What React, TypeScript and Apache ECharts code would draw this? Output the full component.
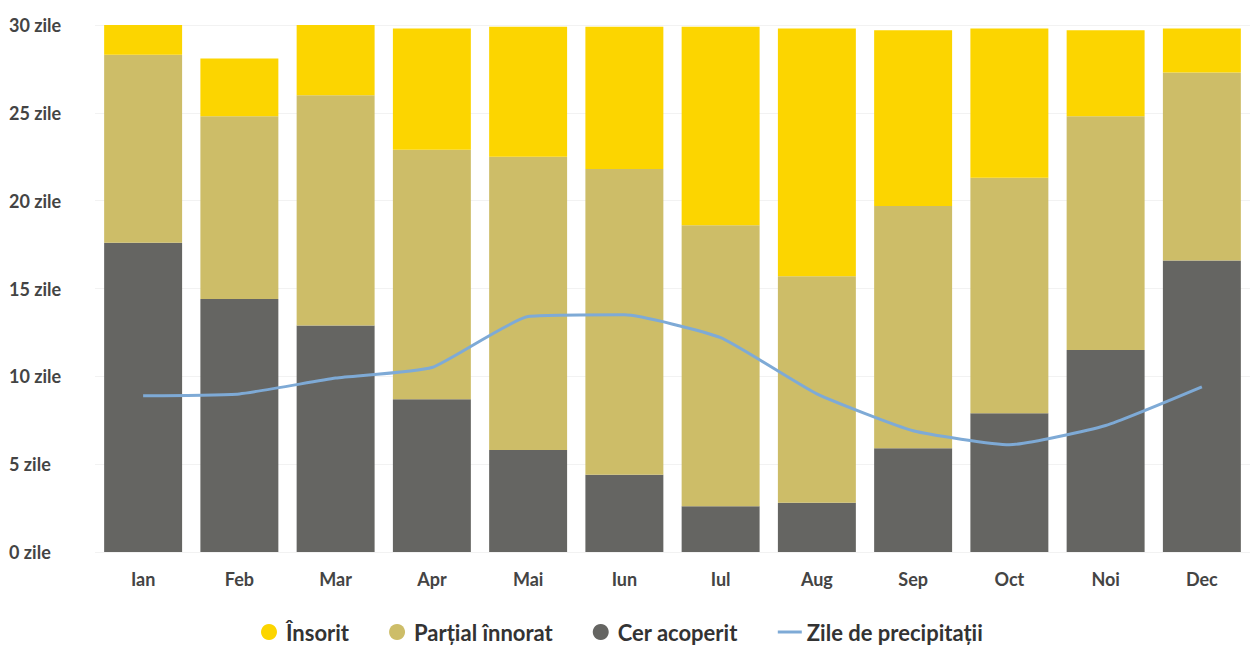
import React, { useEffect, useRef } from "react";
import * as echarts from "echarts";

const months = ["Ian", "Feb", "Mar", "Apr", "Mai", "Iun", "Iul", "Aug", "Sep", "Oct", "Noi", "Dec"];
const cloudy = [17.6, 14.4, 12.9, 8.7, 5.8, 4.4, 2.6, 2.8, 5.9, 7.9, 11.5, 16.6];
const partial = [10.7, 10.4, 13.1, 14.2, 16.7, 17.4, 16.0, 12.9, 13.8, 13.4, 13.3, 10.7];
const sunny = [1.8, 3.3, 4.0, 6.9, 7.4, 8.1, 11.3, 14.1, 10.0, 8.5, 4.9, 2.5];
const precipitation = [8.9, 9.0, 9.9, 10.5, 13.4, 13.5, 12.2, 9.0, 6.9, 6.1, 7.2, 9.4];

const FONT = "Lato, 'Open Sans', sans-serif";

export default function App() {
  const ref = useRef<HTMLDivElement>(null);
  useEffect(() => {
    if (!ref.current) return;
    const chart = echarts.init(ref.current, null, { renderer: "svg" });
    chart.setOption({
      animation: false,
      backgroundColor: "#ffffff",
      textStyle: { fontFamily: FONT },
      grid: { left: 95, right: 0, top: 25, bottom: 98, containLabel: false },
      legend: {
        bottom: 2,
        left: 256,
        itemGap: 40,
        itemWidth: 24,
        itemHeight: 16,
        textStyle: { fontSize: 22, fontWeight: "bold", color: "#333", fontFamily: FONT },
        data: [
          { name: "Însorit", icon: "circle" },
          { name: "Parțial înnorat", icon: "circle" },
          { name: "Cer acoperit", icon: "circle" },
          { name: "Zile de precipitații", icon: "path://M0,0 H24 V3 H0 Z" },
        ],
      },
      xAxis: {
        type: "category",
        data: months,
        axisLine: { show: false },
        axisTick: { show: false },
        axisLabel: { fontSize: 18, fontWeight: "bold", color: "#444", margin: 18, fontFamily: FONT },
      },
      yAxis: {
        type: "value",
        min: 0,
        max: 30,
        interval: 5,
        axisLine: { show: false },
        axisTick: { show: false },
        splitLine: { lineStyle: { color: "#f2f2f2", width: 1 } },
        axisLabel: {
          formatter: "{value} zile",
          align: "left",
          margin: 86,
          fontSize: 18,
          fontWeight: "bold",
          color: "#444",
          fontFamily: FONT,
        },
      },
      series: [
        {
          name: "Cer acoperit",
          type: "bar",
          stack: "zile",
          data: cloudy,
          barCategoryGap: "19%",
          itemStyle: { color: "#656562" },
        },
        {
          name: "Parțial înnorat",
          type: "bar",
          stack: "zile",
          data: partial,
          itemStyle: { color: "#cdbd68" },
        },
        {
          name: "Însorit",
          type: "bar",
          stack: "zile",
          data: sunny,
          itemStyle: { color: "#fcd500" },
        },
        {
          name: "Zile de precipitații",
          type: "line",
          data: precipitation,
          symbol: "none",
          smooth: 0.15,
          lineStyle: { color: "#7eaad6", width: 3 },
          itemStyle: { color: "#7eaad6" },
          z: 5,
        },
      ],
    });
    return () => chart.dispose();
  }, []);
  return (
    <div
      ref={ref}
      style={{ position: "fixed", left: 0, top: 0, width: 1250, height: 650, background: "#fff" }}
    />
  );
}
